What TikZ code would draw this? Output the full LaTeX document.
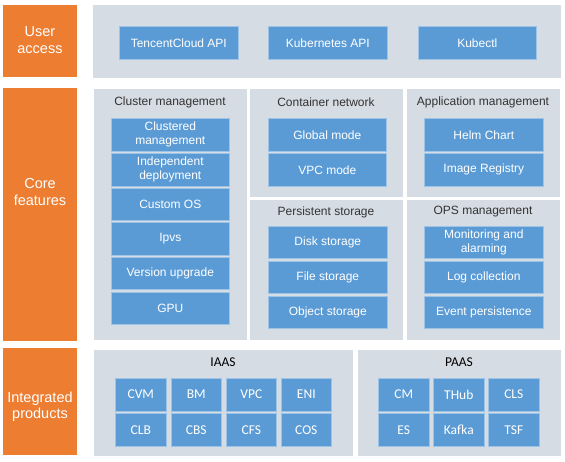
\documentclass[tikz,border=0pt]{standalone}
\usepackage{fontspec}
\setmainfont{Liberation Sans}
\newfontfamily\carl{Carlito}
\definecolor{ora}{HTML}{ED7D31}
\definecolor{gry}{HTML}{D6DCE4}
\definecolor{blu}{HTML}{5B9BD5}
\definecolor{blub}{HTML}{9DC3E6}
\definecolor{ttl}{HTML}{333333}
\tikzset{
  orangebox/.style={fill=ora, draw=none, inner sep=0pt, anchor=north west},
  graybox/.style={fill=gry, draw=none, inner sep=0pt, anchor=north west},
  bluebox/.style={fill=blu, draw=blub, line width=0.6pt, inner sep=0pt, anchor=north west,
     text=white, align=center, font=\fontsize{12}{14}\selectfont},
  pbox/.style={bluebox, font=\carl\fontsize{13.5}{15}\selectfont},
  olabel/.style={text=white, align=center, font=\fontsize{14.5}{16.5}\selectfont},
  gtitle/.style={text=ttl, font=\fontsize{12}{14}\selectfont},
  ptitle/.style={text=black, font=\carl\fontsize{13.5}{15}\selectfont}
}
\newcommand{\rbox}[6]{\node[#1, minimum width=#4pt, minimum height=#5pt] (#6) at (#2,#3) {};}
\newcommand{\bbox}[7]{\node[#1, minimum width=#4pt, minimum height=#5pt] (#6) at (#2,#3) {#7};}
\begin{document}
\begin{tikzpicture}[x=1pt,y=-1pt]
\fill[white] (0,0) rectangle (565,462);
\useasboundingbox (0,0) rectangle (565,462);
% orange
\rbox{orangebox}{3}{5}{74}{72}{ua}
\rbox{orangebox}{3}{88}{74}{253}{cf}
\rbox{orangebox}{3}{348}{74}{107}{ip}
\node[olabel] (ual) at (40,40) {User\\access};
\node[olabel] (cfl) at (40,192) {Core\\features};
\node[olabel] (ipl) at (40,407) {Integrated\\products};
% gray panels
\rbox{graybox}{93}{5}{468}{73}{uag}
\rbox{graybox}{94}{89}{153}{251}{cmg}
\rbox{graybox}{250}{89}{153}{108}{cng}
\rbox{graybox}{407}{89}{153}{108}{amg}
\rbox{graybox}{250}{200}{153}{140}{psg}
\rbox{graybox}{407}{200}{153}{140}{opg}
\rbox{graybox}{94}{350}{259}{106}{iag}
\rbox{graybox}{358}{350}{203}{106}{pag}
% titles
\node[gtitle] (cmt) at (170,102) {Cluster management};
\node[gtitle] (cnt) at (326,102) {Container network};
\node[gtitle] (amt) at (483,102) {Application management};
\node[gtitle] (pst) at (326,212) {Persistent storage};
\node[gtitle] (opt) at (483,212) {OPS management};
\node[ptitle] (iat) at (223,362) {IAAS};
\node[ptitle] (pat) at (459,362) {PAAS};
% user access
\bbox{bluebox}{119}{26}{119}{33}{b1}{TencentCloud API}
\bbox{bluebox}{268}{26}{119}{33}{b2}{Kubernetes API}
\bbox{bluebox}{418}{26}{118}{33}{b3}{Kubectl}
% cluster management
\bbox{bluebox}{111}{118}{118}{33}{c1}{Clustered\\management}
\bbox{bluebox}{111}{153}{118}{33}{c2}{Independent\\deployment}
\bbox{bluebox}{111}{188}{118}{32.5}{c3}{Custom OS}
\bbox{bluebox}{111}{222.5}{118}{32.5}{c4}{Ipvs}
\bbox{bluebox}{111}{257.5}{118}{32}{c5}{Version upgrade}
\bbox{bluebox}{111}{292}{118}{32}{c6}{GPU}
% container network
\bbox{bluebox}{268}{118}{118}{33}{n1}{Global mode}
\bbox{bluebox}{268}{153}{118}{33}{n2}{VPC mode}
% application management
\bbox{bluebox}{424}{118}{119}{33}{a1}{Helm Chart}
\bbox{bluebox}{424}{153}{119}{33}{a2}{Image Registry}
% persistent storage
\bbox{bluebox}{268}{226}{119}{32.5}{s1}{Disk storage}
\bbox{bluebox}{268}{261}{119}{32.5}{s2}{File storage}
\bbox{bluebox}{268}{296}{119}{32}{s3}{Object storage}
% ops
\bbox{bluebox}{424}{226}{119}{32.5}{o1}{Monitoring and\\alarming}
\bbox{bluebox}{424}{261}{119}{32.5}{o2}{Log collection}
\bbox{bluebox}{424}{296}{119}{32}{o3}{Event persistence}
% IAAS
\bbox{pbox}{115}{378}{51}{32.5}{i1}{CVM}
\bbox{pbox}{171}{378}{50}{32.5}{i2}{BM}
\bbox{pbox}{226}{378}{50}{32.5}{i3}{VPC}
\bbox{pbox}{281}{378}{50}{32.5}{i4}{ENI}
\bbox{pbox}{115}{413}{51}{33}{i5}{CLB}
\bbox{pbox}{171}{413}{50}{33}{i6}{CBS}
\bbox{pbox}{226}{413}{50}{33}{i7}{CFS}
\bbox{pbox}{281}{413}{50}{33}{i8}{COS}
% PAAS
\bbox{pbox}{378}{378}{51}{32.5}{p1}{CM}
\bbox{pbox}{433}{378}{51}{32.5}{p2}{THub}
\bbox{pbox}{488}{378}{51}{32.5}{p3}{CLS}
\bbox{pbox}{378}{413}{51}{33}{p4}{ES}
\bbox{pbox}{433}{413}{51}{33}{p5}{Kafka}
\bbox{pbox}{488}{413}{51}{33}{p6}{TSF}
\end{tikzpicture}
\end{document}
